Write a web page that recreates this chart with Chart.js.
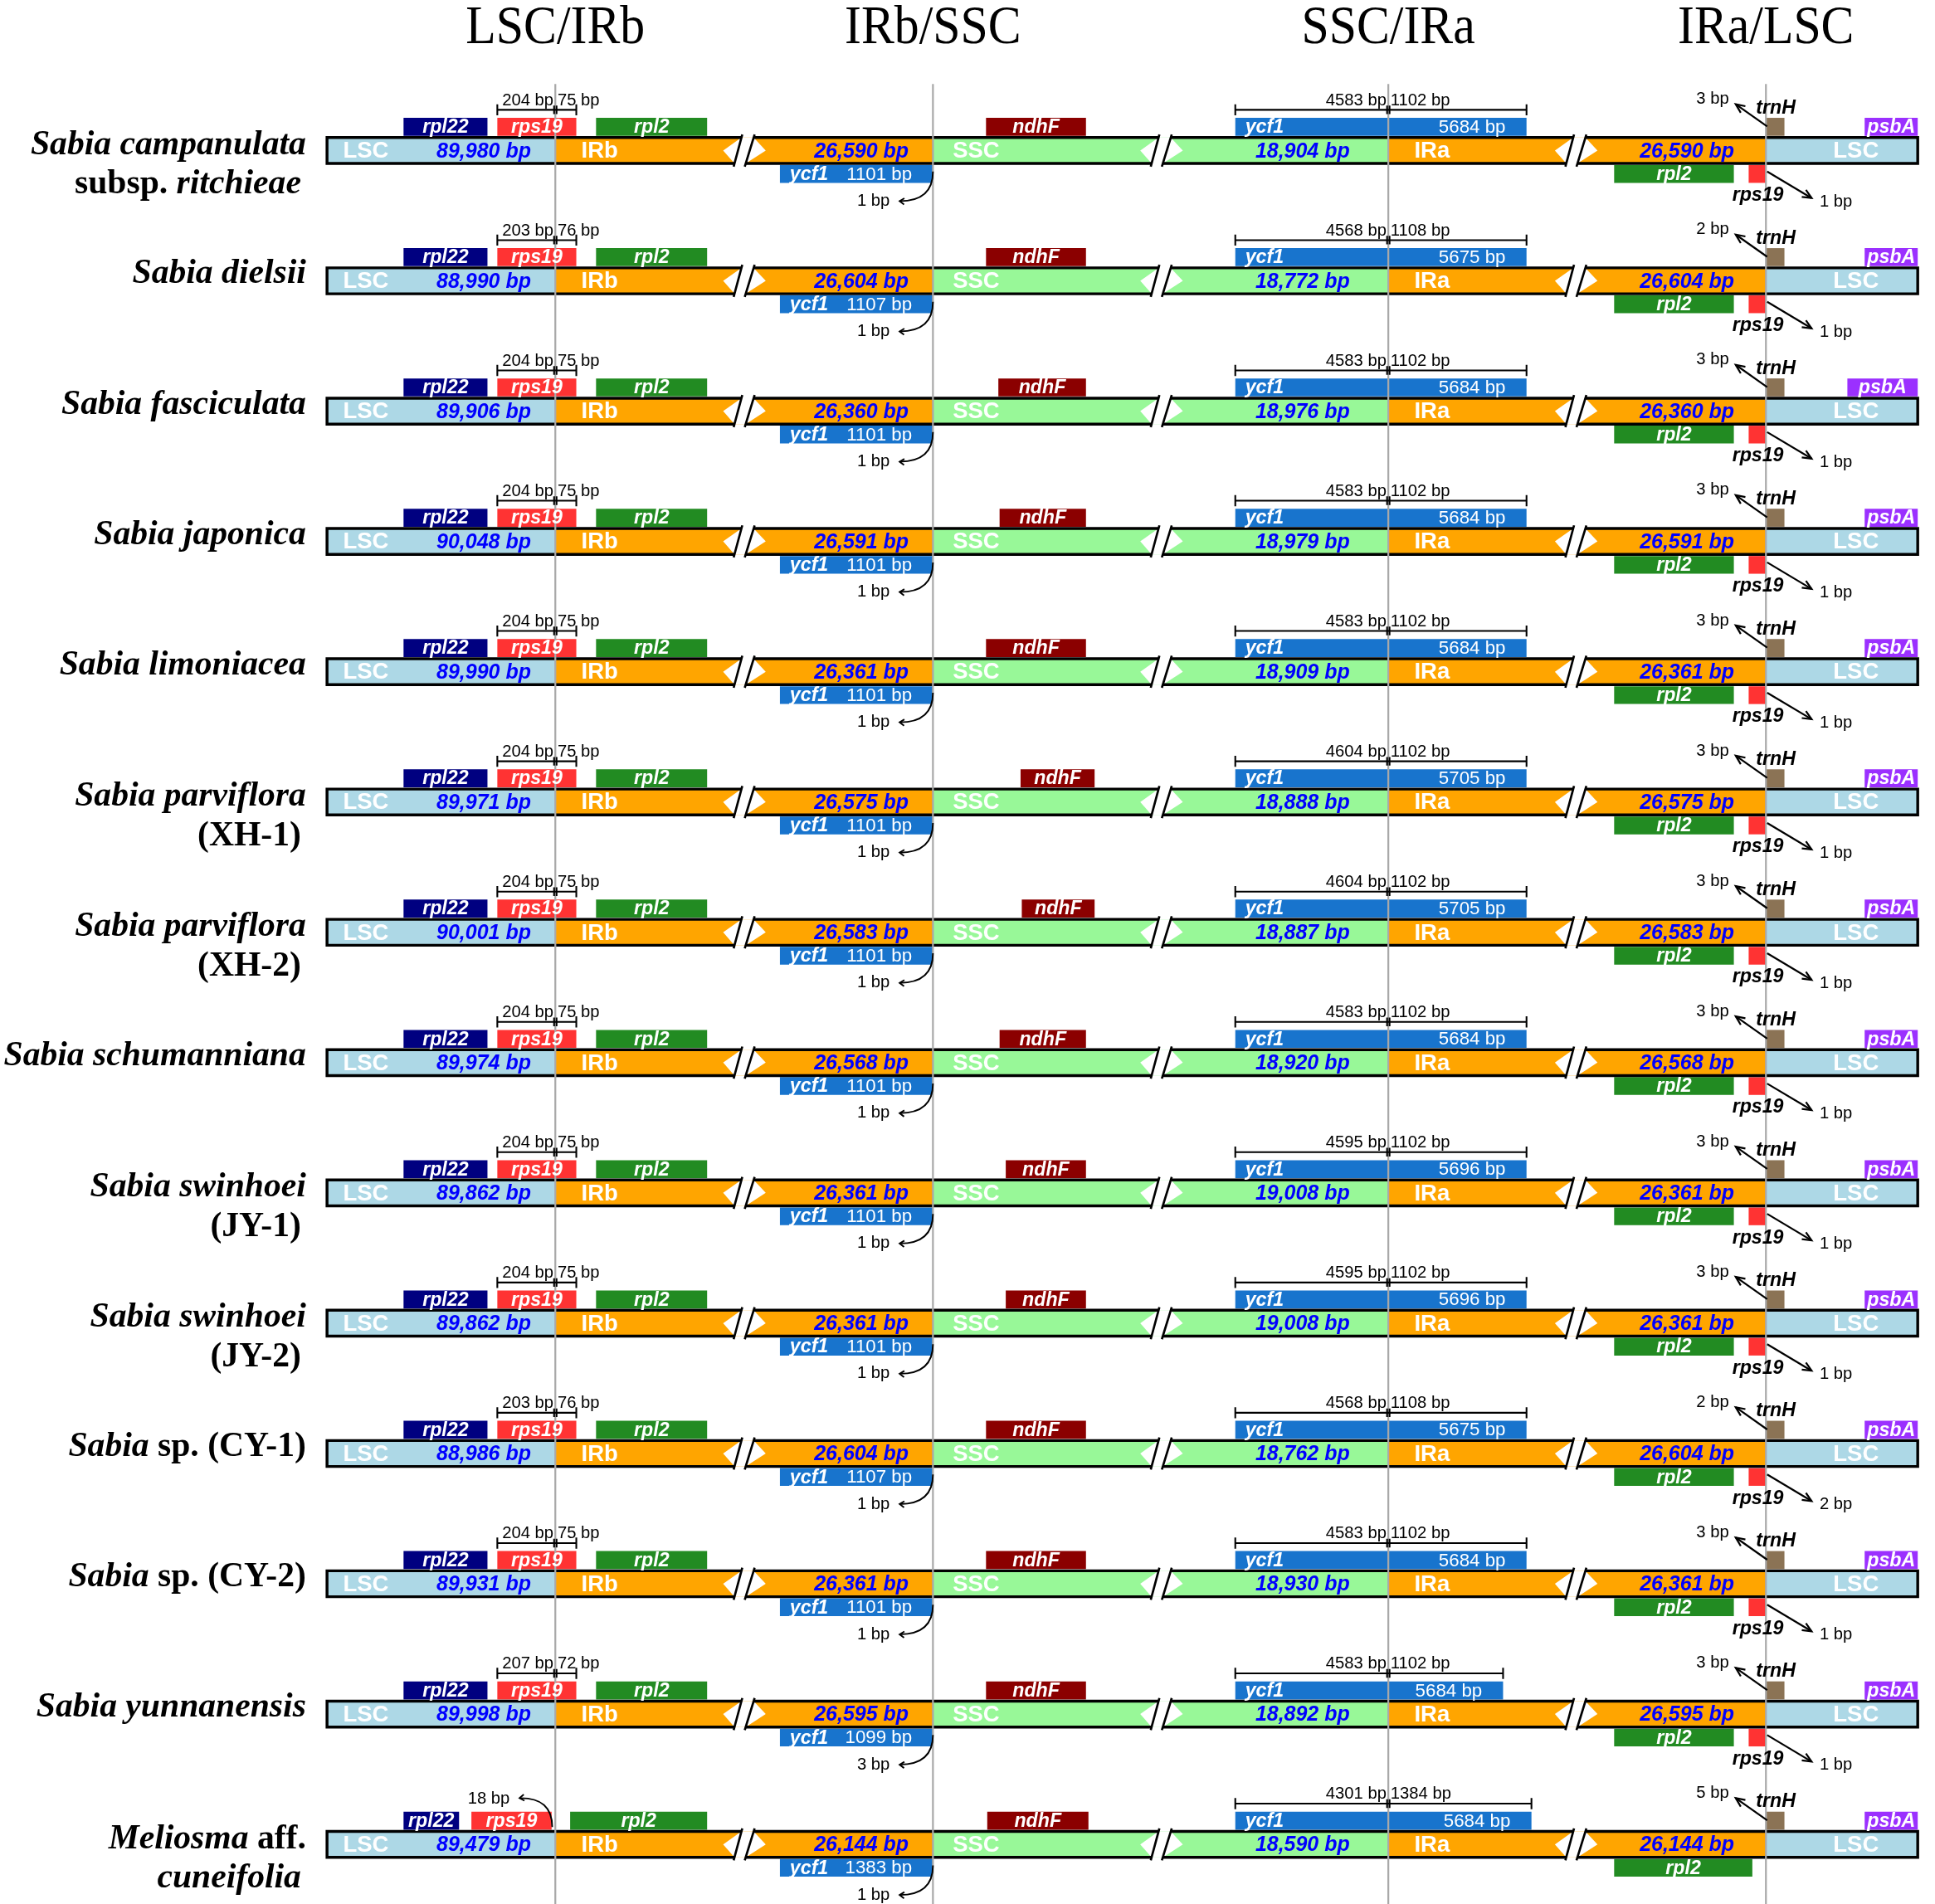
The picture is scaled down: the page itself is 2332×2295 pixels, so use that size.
<!DOCTYPE html>
<html>
<head>
<meta charset="utf-8">
<script src="https://cdn.jsdelivr.net/npm/chart.js@4.4.1/dist/chart.umd.min.js"></script>
<style>
  html, body { margin: 0; padding: 0; background: #fff; }
  #caja { width: 2332px; height: 2295px; }
</style>
</head>
<body>
<div id="caja"><canvas id="grafica"></canvas></div>
<script>
// --- data ---
// species names, "_" marks italic runs
const nombre1 = ["_Sabia campanulata_", "_Sabia dielsii_", "_Sabia fasciculata_", "_Sabia japonica_",
  "_Sabia limoniacea_", "_Sabia parviflora_", "_Sabia parviflora_", "_Sabia schumanniana_",
  "_Sabia swinhoei_", "_Sabia swinhoei_", "_Sabia_ sp. (CY-1)", "_Sabia_ sp. (CY-2)",
  "_Sabia yunnanensis_", "_Meliosma_ aff."];
const nombre2 = ["subsp. _ritchieae_", "", "", "", "", "(XH-1)", "(XH-2)", "", "(JY-1)", "(JY-2)",
  "", "", "", "_cuneifolia_"];

const lscLen = [89980, 88990, 89906, 90048, 89990, 89971, 90001, 89974, 89862, 89862, 88986, 89931, 89998, 89479];
const irLen  = [26590, 26604, 26360, 26591, 26361, 26575, 26583, 26568, 26361, 26361, 26604, 26361, 26595, 26144];
const sscLen = [18904, 18772, 18976, 18979, 18909, 18888, 18887, 18920, 19008, 19008, 18762, 18930, 18892, 18590];

const rps19EnLsc = [204, 203, 204, 204, 204, 204, 204, 204, 204, 204, 203, 204, 207, null];
const rps19EnIrb = [75, 76, 75, 75, 75, 75, 75, 75, 75, 75, 76, 75, 72, null];
const rps19Hueco = [null, null, null, null, null, null, null, null, null, null, null, null, null, 18];

const ycf1Irb     = [1101, 1107, 1101, 1101, 1101, 1101, 1101, 1101, 1101, 1101, 1107, 1101, 1099, 1383];
const ycf1IrbGap  = [1, 1, 1, 1, 1, 1, 1, 1, 1, 1, 1, 1, 3, 1];
const ycf1EnSsc   = [4583, 4568, 4583, 4583, 4583, 4604, 4604, 4583, 4595, 4595, 4568, 4583, 4583, 4301];
const ycf1EnIra   = [1102, 1108, 1102, 1102, 1102, 1102, 1102, 1102, 1102, 1102, 1108, 1102, 1102, 1384];
const ycf1Total   = [5684, 5675, 5684, 5684, 5684, 5705, 5705, 5684, 5696, 5696, 5675, 5684, 5684, 5684];
const trnHGap     = [3, 2, 3, 3, 3, 3, 3, 3, 3, 3, 2, 3, 3, 5];
const rps19IraGap = [1, 1, 1, 1, 1, 1, 1, 1, 1, 1, 2, 1, 1, null];

// schematic map units of the drawing (x from 0 to 1568)
const limites = [265, 450, 756, 1125, 1431, 1554];   // LSC | IRb | SSC | IRa | LSC
const cortes = [603, 941, 1277];                      // "//" breaks
const S = [327, 395], M = [327, 372];
const rpl22Pos = [S, S, S, S, S, S, S, S, S, S, S, S, S, M];
const rps19Pos = Array(13).fill([403, 467]).concat([[382, 447]]);
const rpl2Pos  = Array(13).fill([483, 573]).concat([[462, 573]]);
const ycf1bPos = Array(14).fill([632, 756]);
const ndhFPos  = [[799, 880], [799, 880], [809, 880], [810, 880], [799, 880], [827, 887], [828, 887],
  [810, 880], [815, 880], [815, 880], [799, 880], [799, 880], [799, 880], [800, 882]];
const ycf1aPos = Array(12).fill([1001, 1237]).concat([[1001, 1218], [1001, 1241]]);
const trnHPos  = Array(14).fill([1431, 1446]);
const psbAPos  = [[1511, 1554], [1511, 1554], [1497, 1554]].concat(Array(11).fill([1511, 1554]));
const rpl2aPos = Array(13).fill([1308, 1405]).concat([[1308, 1420]]);
const rps19aPos = Array(13).fill([1417, 1431]).concat([null]);

const encabezados = ["LSC/IRb", "IRb/SSC", "SSC/IRa", "IRa/LSC"];

// --- layout ---
const ANCHO = 2332, ALTO = 2295, MAPA = 1568, FILA = 105.6;
const u0 = ANCHO / MAPA;
const filas = nombre1.map((_, i) => i);
const fmt = n => n.toLocaleString('en-US');

function serie(label, color, pos, dy, alto) {
  return {
    label, backgroundColor: color, borderWidth: 0, grouped: false,
    barThickness: alto * u0, inflateAmount: 0,
    data: filas.filter(i => pos[i]).map(i => ({ x: pos[i], y: i + dy / FILA }))
  };
}

const lscPos = filas.map(() => [limites[0], limites[1]]).concat(filas.map(() => [limites[4], limites[5]]));
const datasets = [
  {
    label: 'LSC', backgroundColor: '#ADD8E6', borderWidth: 0, grouped: false, barThickness: 21 * u0, inflateAmount: 0,
    data: lscPos.map((p, k) => ({ x: p, y: k % 14 }))
  },
  serie('IRb', '#FFA500', filas.map(() => [limites[1], limites[2]]), 0, 21),
  serie('SSC', '#98F898', filas.map(() => [limites[2], limites[3]]), 0, 21),
  serie('IRa', '#FFA500', filas.map(() => [limites[3], limites[4]]), 0, 21),
  serie('rpl22', '#000080', rpl22Pos, -19.2, 14.6),
  serie('rps19', '#FF3333', rps19Pos, -19.2, 14.6),
  serie('rpl2', '#228B22', rpl2Pos, -19.2, 14.6),
  serie('ndhF', '#8B0000', ndhFPos, -19.2, 14.6),
  serie('ycf1', '#1874CD', ycf1aPos, -19.2, 14.6),
  serie('trnH', '#8B7355', trnHPos, -19.2, 14.6),
  serie('psbA', '#9B30FF', psbAPos, -19.2, 14.6),
  serie('ycf1 IRb', '#1874CD', ycf1bPos, 19, 14.4),
  serie('rpl2 IRa', '#228B22', rpl2aPos, 19, 14.4),
  serie('rps19 IRa', '#FF3333', rps19aPos, 19, 14.4)
];

function tramos(str) {
  return str.split('_').map((t, j) => ({ t, it: j % 2 === 1 })).filter(r => r.t);
}

const dibujo = {
  id: 'dibujo',
  afterDatasetsDraw(chart) {
    const ctx = chart.ctx, sx = chart.scales.x, sy = chart.scales.y;
    const u = (sx.getPixelForValue(MAPA) - sx.getPixelForValue(0)) / MAPA;
    const X = v => sx.getPixelForValue(v);
    const Y = (i, d) => sy.getPixelForValue(i + d / FILA);
    const H = 10.5;

    const texto = (t, x, y, font, color, align) => {
      ctx.font = font; ctx.fillStyle = color; ctx.textAlign = align || 'center';
      ctx.fillText(t, x, y);
    };
    const punta = (x1, y1, x2, y2, len, ang) => {
      const a = Math.atan2(y2 - y1, x2 - x1);
      ctx.beginPath();
      ctx.moveTo(x2 - len * Math.cos(a - ang), y2 - len * Math.sin(a - ang));
      ctx.lineTo(x2, y2);
      ctx.lineTo(x2 - len * Math.cos(a + ang), y2 - len * Math.sin(a + ang));
      ctx.stroke();
    };
    const fSans = (s, st) => `${st || ''} ${s * u}px "Liberation Sans", Arial, sans-serif`;

    ctx.save();
    ctx.textBaseline = 'middle';
    ctx.lineCap = 'butt';

    filas.forEach(i => {
      // breaks: white notch + two slashes
      cortes.forEach(c => {
        ctx.fillStyle = '#fff';
        ctx.beginPath();
        ctx.moveTo(X(c - 17), Y(i, 0));
        ctx.lineTo(X(c - 2.2), Y(i, -H));
        ctx.lineTo(X(c + 7.7), Y(i, -H));
        ctx.lineTo(X(c + 17.5), Y(i, 0));
        ctx.lineTo(X(c + 1.3), Y(i, H));
        ctx.lineTo(X(c - 7.8), Y(i, H));
        ctx.closePath();
        ctx.fill();
      });
      // outline of the bar, open at the breaks
      ctx.strokeStyle = '#000';
      ctx.lineWidth = 2.3 * u;
      ctx.beginPath();
      let a = limites[0], b = limites[0];
      cortes.forEach(c => {
        ctx.moveTo(X(a), Y(i, -H)); ctx.lineTo(X(c - 2.2), Y(i, -H));
        ctx.moveTo(X(b), Y(i, H)); ctx.lineTo(X(c - 7.8), Y(i, H));
        a = c + 7.7; b = c + 1.3;
      });
      ctx.moveTo(X(a), Y(i, -H)); ctx.lineTo(X(limites[5]), Y(i, -H));
      ctx.moveTo(X(b), Y(i, H)); ctx.lineTo(X(limites[5]), Y(i, H));
      ctx.moveTo(X(limites[0]), Y(i, -H - 1.15)); ctx.lineTo(X(limites[0]), Y(i, H + 1.15));
      ctx.moveTo(X(limites[5]), Y(i, -H - 1.15)); ctx.lineTo(X(limites[5]), Y(i, H + 1.15));
      ctx.stroke();
      ctx.lineWidth = 1.8 * u;
      ctx.beginPath();
      cortes.forEach(c => {
        ctx.moveTo(X(c - 8.5), Y(i, 13)); ctx.lineTo(X(c - 1.5), Y(i, -13));
        ctx.moveTo(X(c + 0.5), Y(i, 13)); ctx.lineTo(X(c + 8.5), Y(i, -13));
      });
      ctx.stroke();
    });

    // junction lines
    ctx.strokeStyle = '#A9A9A9';
    ctx.lineWidth = 1.5 * u;
    ctx.beginPath();
    limites.slice(1, 5).forEach(j => {
      ctx.moveTo(X(j), chart.chartArea.top + 68 * u);
      ctx.lineTo(X(j), chart.chartArea.bottom);
    });
    ctx.stroke();

    // column titles
    limites.slice(1, 5).forEach((j, k) => {
      ctx.save();
      ctx.translate(X(j), chart.chartArea.top + 23 * u);
      ctx.scale(0.98, 1.08);
      texto(encabezados[k], 0, 0, `${41 * u}px "Liberation Serif", serif`, '#000');
      ctx.restore();
    });

    filas.forEach(i => {
      // species names
      const ns = 28 * u;
      const lines = nombre2[i] ? [[nombre1[i], 3, 248], [nombre2[i], 35, 244]] : [[nombre1[i], 2, 248]];
      ctx.textBaseline = 'alphabetic';
      lines.forEach(([str, dy, xr]) => {
        const parts = tramos(str);
        let w = 0;
        parts.forEach(p => {
          p.f = `${p.it ? 'italic ' : ''}bold ${ns}px "Liberation Serif", serif`;
          ctx.font = p.f; p.w = ctx.measureText(p.t).width; w += p.w;
        });
        let x = X(xr) - w;
        parts.forEach(p => { texto(p.t, x, Y(i, dy), p.f, '#000', 'left'); x += p.w; });
      });
      ctx.textBaseline = 'middle';

      // region names and lengths
      const fReg = fSans(18.5, 'bold');
      const fLen = fSans(16.8, 'italic bold');
      const yb = Y(i, 0.8);
      texto('LSC', X(278), yb, fReg, '#fff', 'left');
      texto('IRb', X(471), yb, fReg, '#fff', 'left');
      texto('SSC', X(772), yb, fReg, '#fff', 'left');
      texto('IRa', X(1146), yb, fReg, '#fff', 'left');
      texto('LSC', X(1504), yb, fReg, '#fff');
      texto(fmt(lscLen[i]) + ' bp', X(392), yb, fLen, '#0000FF');
      texto(fmt(irLen[i]) + ' bp', X(698), yb, fLen, '#0000FF');
      texto(fmt(sscLen[i]) + ' bp', X(1055.5), yb, fLen, '#0000FF');
      texto(fmt(irLen[i]) + ' bp', X(1367), yb, fLen, '#0000FF');

      // gene names
      const fGen = fSans(15.6, 'italic bold');
      const yt = Y(i, -18.6), yl = Y(i, 19.6);
      const mid = p => X((p[0] + p[1]) / 2);
      texto('rpl22', mid(rpl22Pos[i]), yt, fGen, '#fff');
      texto('rps19', mid(rps19Pos[i]), yt, fGen, '#fff');
      texto('rpl2', mid(rpl2Pos[i]), yt, fGen, '#fff');
      texto('ndhF', mid(ndhFPos[i]), yt, fGen, '#fff');
      texto('psbA', mid(psbAPos[i]), yt, fGen, '#fff');
      texto('ycf1', X(ycf1aPos[i][0] + 8), yt, fGen, '#fff', 'left');
      texto(ycf1Total[i] + ' bp', X(ycf1aPos[i][1] - 17), yt, fSans(15), '#fff', 'right');
      texto('ycf1', X(ycf1bPos[i][0] + 8), yl, fGen, '#fff', 'left');
      texto(ycf1Irb[i] + ' bp', X(ycf1bPos[i][1] - 17), yl, fSans(15), '#fff', 'right');
      texto('rpl2', mid(rpl2aPos[i]), yl, fGen, '#fff');

      ctx.strokeStyle = '#000';
      const fBp = fSans(13.6);

      // bracket helper
      const corchete = (p, j, t1, t2) => {
        const yy = Y(i, -33);
        ctx.lineWidth = 1.4 * u;
        ctx.beginPath();
        ctx.moveTo(X(p[0]), yy); ctx.lineTo(X(p[1]), yy);
        [p[0], p[1]].forEach(x => { ctx.moveTo(X(x), Y(i, -37.5)); ctx.lineTo(X(x), Y(i, -28.5)); });
        [j - 1, j + 1].forEach(x => { ctx.moveTo(X(x), Y(i, -36.5)); ctx.lineTo(X(x), Y(i, -29.5)); });
        ctx.stroke();
        texto(t1, X(j - 1.5), Y(i, -40.5), fBp, '#000', 'right');
        texto(t2, X(j + 1.8), Y(i, -40.5), fBp, '#000', 'left');
      };

      // LSC/IRb: rps19
      if (rps19EnLsc[i] !== null) {
        corchete(rps19Pos[i], limites[1], rps19EnLsc[i] + ' bp', rps19EnIrb[i] + ' bp');
      } else {
        const x0 = rps19Pos[i][1] + 0.5;
        ctx.lineWidth = 1.3 * u;
        ctx.beginPath();
        ctx.moveTo(X(x0), Y(i, -14));
        ctx.quadraticCurveTo(X(x0), Y(i, -38), X(421), Y(i, -37.5));
        ctx.stroke();
        punta(X(430), Y(i, -38.5), X(421), Y(i, -37.5), 4.5 * u, 0.6);
        texto(rps19Hueco[i] + ' bp', X(413), Y(i, -37), fBp, '#000', 'right');
      }

      // IRb/SSC: ycf1 gap
      ctx.lineWidth = 1.3 * u;
      ctx.beginPath();
      ctx.moveTo(X(limites[2]), Y(i, 17));
      ctx.quadraticCurveTo(X(limites[2]), Y(i, 41), X(729), Y(i, 41));
      ctx.stroke();
      punta(X(738), Y(i, 41.5), X(729), Y(i, 41), 4.5 * u, 0.6);
      texto(ycf1IrbGap[i] + ' bp', X(721), Y(i, 41), fBp, '#000', 'right');

      // SSC/IRa: ycf1 bracket
      corchete(ycf1aPos[i], limites[3], ycf1EnSsc[i] + ' bp', ycf1EnIra[i] + ' bp');

      // IRa/LSC: trnH and rps19
      const fNeg = fSans(15.6, 'italic bold');
      ctx.lineWidth = 1.5 * u;
      ctx.beginPath();
      ctx.moveTo(X(1432), Y(i, -19.5)); ctx.lineTo(X(1406.5), Y(i, -37.5));
      ctx.stroke();
      punta(X(1432), Y(i, -19.5), X(1406.5), Y(i, -37.5), 8 * u, 0.42);
      texto('trnH', X(1439), Y(i, -34.5), fNeg, '#000');
      texto(trnHGap[i] + ' bp', X(1401), Y(i, -41.5), fBp, '#000', 'right');

      if (rps19aPos[i]) {
        ctx.beginPath();
        ctx.moveTo(X(1432), Y(i, 17)); ctx.lineTo(X(1468), Y(i, 38.5));
        ctx.stroke();
        punta(X(1432), Y(i, 17), X(1468), Y(i, 38.5), 8 * u, 0.42);
        texto('rps19', X(1424.5), Y(i, 36.5), fNeg, '#000');
        texto(rps19IraGap[i] + ' bp', X(1474.5), Y(i, 41.5), fBp, '#000', 'left');
      }
    });
    ctx.restore();
  }
};

new Chart(document.querySelector('#grafica'), {
  type: 'bar',
  data: { datasets },
  options: {
    indexAxis: 'y',
    responsive: true,
    maintainAspectRatio: false,
    devicePixelRatio: 1,
    animation: false,
    events: [],
    layout: { padding: 0 },
    plugins: { legend: { display: false }, tooltip: { enabled: false } },
    scales: {
      x: { type: 'linear', min: 0, max: MAPA, offset: false, display: false },
      y: { type: 'linear', min: -122 / FILA, max: (ALTO / u0 - 122) / FILA, reverse: true, offset: false, display: false }
    }
  },
  plugins: [dibujo]
});
</script>
</body>
</html>
